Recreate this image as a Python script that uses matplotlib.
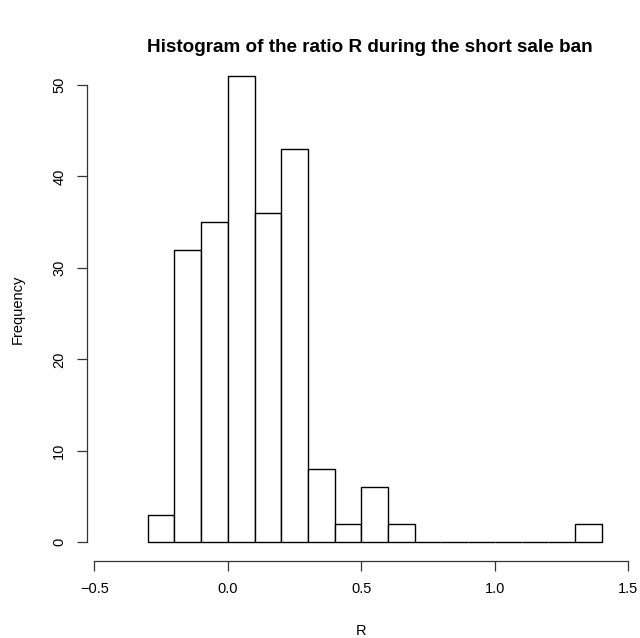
import numpy as np
import matplotlib.pyplot as plt

plt.rcParams['font.family'] = ['Liberation Sans', 'DejaVu Sans']

# histogram breaks and counts
breaks = np.round(np.arange(-0.3, 1.41, 0.1), 2)
counts = [3, 32, 35, 51, 36, 43, 8, 2, 6, 2, 0, 0, 0, 0, 0, 0, 2]
xticks = [-0.5, 0.0, 0.5, 1.0, 1.5]
xtick_labels = ['\u22120.5', '0.0', '0.5', '1.0', '1.5']
yticks = [0, 10, 20, 30, 40, 50]

W, H = 640, 638
fig = plt.figure(figsize=(W / 100, H / 100), dpi=100)

# axes placed by pixel so it lines up with the R layout
left, right, bottom, top = 87, 634, 561, 57.2
ax = fig.add_axes([left / W, (H - bottom) / H, (right - left) / W, (bottom - top) / H])

ax.bar(breaks[:-1], counts, width=0.1, align='edge',
       facecolor='white', edgecolor='black', linewidth=1.0)

px_per_unit = (628.3 - 94.3) / 2.0
ax.set_xlim(-0.5 - (94.3 - left) / px_per_unit, 1.5 + (right - 628.3) / px_per_unit)
ypx = (542.3 - 85) / 50.0
ax.set_ylim(-(bottom - 542.3) / ypx, 50 + (85 - top) / ypx)

for s in ['top', 'right']:
    ax.spines[s].set_visible(False)
ax.spines['left'].set_bounds(0, 50)
ax.spines['bottom'].set_bounds(-0.5, 1.5)
for s in ['left', 'bottom']:
    ax.spines[s].set_linewidth(0.9)
    ax.spines[s].set_color('#333333')

ax.set_xticks(xticks)
ax.set_xticklabels(xtick_labels)
ax.set_yticks(yticks)
ax.set_yticklabels([str(v) for v in yticks], rotation=90, va='center')
ax.tick_params(axis='both', length=7, width=0.9, color='#333333', labelsize=10.5, pad=8)

fig.text(370 / W, (H - 47) / H,
         'Histogram of the ratio R during the short sale ban',
         ha='center', va='center', fontsize=13.6, fontweight='bold')
fig.text(361 / W, (H - 631) / H, 'R', ha='center', va='center', fontsize=10.5)
fig.text(18 / W, (H - 309) / H, 'Frequency', ha='center', va='center',
         fontsize=10.5, rotation=90)

fig.savefig('out.png', dpi=100)
